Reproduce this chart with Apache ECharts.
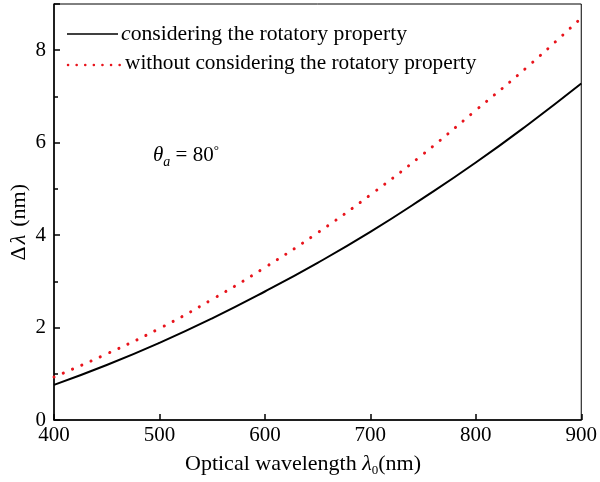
<!DOCTYPE html>
<html>
<head>
<meta charset="utf-8">
<script src="https://cdn.jsdelivr.net/npm/echarts@6/dist/echarts.min.js"></script>
<style>html,body{margin:0;padding:0;background:#fff}#c{width:600px;height:482px}</style>
</head>
<body>
<div id="c"></div>
<script>
const wavelengths = [400, 450, 500, 550, 600, 650, 700, 750, 800, 850, 900];
const withRotatory = [0.76, 1.19, 1.67, 2.20, 2.78, 3.40, 4.07, 4.80, 5.57, 6.40, 7.28];
const withoutRotatory = [0.93, 1.43, 1.98, 2.61, 3.30, 4.05, 4.87, 5.75, 6.70, 7.66, 8.70];
const xTicks = [400, 500, 600, 700, 800, 900];
const yTicks = [0, 2, 4, 6, 8];
const seriesNames = ['considering the rotatory property', 'without considering the rotatory property'];

const FONT = '"Liberation Serif", "Times New Roman", serif';
const RED = '#e8141c';
const chart = echarts.init(document.getElementById('c'));
chart.setOption({
  animation: false,
  backgroundColor: '#fff',
  grid: { left: 54, right: 15, top: 4, bottom: 62, show: true, borderColor: '#000', borderWidth: 1 },
  xAxis: {
    type: 'value', min: 400, max: 900, interval: 100,
    axisLine: { lineStyle: { color: '#000', width: 1.5 } },
    axisTick: { inside: true, length: 6, lineStyle: { color: '#000', width: 1.5 } },
    splitLine: { show: false },
    axisLabel: { color: '#000', fontFamily: FONT, fontSize: 21, margin: 5,
      formatter: v => xTicks.includes(v) ? String(v) : '' }
  },
  yAxis: {
    type: 'value', min: 0, max: 9, interval: 2,
    axisLine: { lineStyle: { color: '#000', width: 1.5 } },
    axisTick: { inside: true, length: 6, lineStyle: { color: '#000', width: 1.5 } },
    minorTick: { show: true, splitNumber: 2, length: 4, lineStyle: { color: '#000', width: 1.5 } },
    splitLine: { show: false },
    axisLabel: { color: '#000', fontFamily: FONT, fontSize: 21, margin: 8,
      formatter: v => yTicks.includes(v) ? String(v) : '' }
  },
  legend: { show: false, data: seriesNames },
  series: [
    { name: seriesNames[0], type: 'line', smooth: true, symbol: 'none',
      data: wavelengths.map((x, i) => [x, withRotatory[i]]),
      lineStyle: { color: '#000', width: 2 }, itemStyle: { color: '#000' } },
    { name: seriesNames[1], type: 'line', smooth: true, symbol: 'none',
      data: wavelengths.map((x, i) => [x, withoutRotatory[i]]),
      lineStyle: { color: RED, width: 3, type: [0.1, 10], cap: 'round' }, itemStyle: { color: RED } }
  ],
  graphic: [
    { type: 'line', shape: { x1: 67, y1: 34, x2: 118, y2: 34 }, style: { stroke: '#000', lineWidth: 1.5 } },
    { type: 'text', left: 121, top: 23,
      style: { rich: {
          i: { fontFamily: FONT, fontStyle: 'italic', fontSize: 21.7, fill: '#000' },
          n: { fontFamily: FONT, fontSize: 21.7, fill: '#000' } },
        text: '{i|c}{n|onsidering the rotatory property}' } },
    { type: 'line', shape: { x1: 68, y1: 65, x2: 120, y2: 65 },
      style: { stroke: RED, lineWidth: 2.5, lineDash: [0.1, 8.5], lineCap: 'round' } },
    { type: 'text', left: 125, top: 53,
      style: { fontFamily: FONT, fontSize: 21.3, fill: '#000', text: seriesNames[1] } },
    { type: 'text', left: 153, top: 144,
      style: { rich: {
          t: { fontFamily: FONT, fontStyle: 'italic', fontSize: 21, fill: '#000' },
          s: { fontFamily: FONT, fontStyle: 'italic', fontSize: 14, fill: '#000', padding: [14, 0, 0, 0] },
          n: { fontFamily: FONT, fontSize: 21, fill: '#000' },
          d: { fontFamily: FONT, fontSize: 13, fill: '#000', padding: [0, 0, 9, 0] } },
        text: '{t|θ}{s|a}{n| = 80}{d|°}' } },
    { type: 'text', left: 185, top: 453,
      style: { rich: {
          n: { fontFamily: FONT, fontSize: 22, fill: '#000' },
          t: { fontFamily: FONT, fontStyle: 'italic', fontSize: 22, fill: '#000' },
          s: { fontFamily: FONT, fontSize: 13, fill: '#000', padding: [14, 0, 0, 0] } },
        text: '{n|Optical wavelength }{t|λ}{s|0}{n|(nm)}' } },
    { type: 'text', left: 8, top: 184, rotation: Math.PI / 2,
      style: { rich: {
          n: { fontFamily: FONT, fontSize: 22, fill: '#000' },
          g: { fontFamily: FONT, fontSize: 22, fill: '#000', padding: [0, 0, 0, 8] },
          t: { fontFamily: FONT, fontStyle: 'italic', fontSize: 22, fill: '#000', padding: [0, 0, 0, 2] } },
        text: '{n|Δ}{t|λ}{g|(nm)}' } }
  ]
});
</script>
</body>
</html>
